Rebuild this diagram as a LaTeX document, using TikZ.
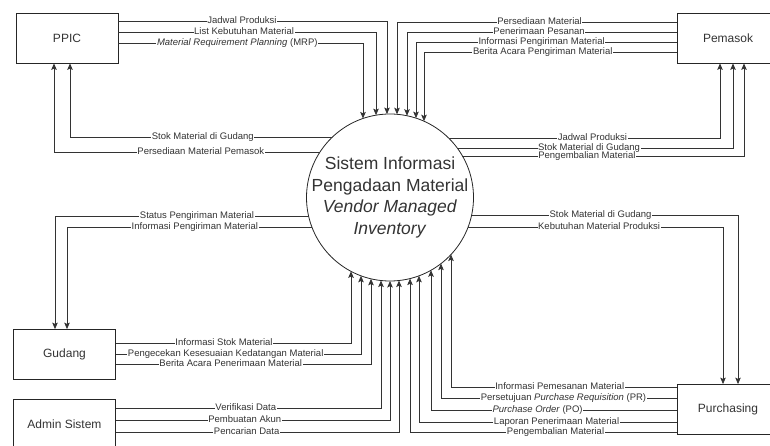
\documentclass[tikz,border=0pt]{standalone}
\usepackage{fontspec}
\setmainfont{Liberation Sans}
\usetikzlibrary{positioning,calc,arrows.meta}

\begin{document}
\begin{tikzpicture}[x=1pt,y=-1pt,
		ent/.style={draw=black!85,line width=0.8pt,minimum width=102pt,minimum height=50pt,font=\fontsize{12}{14}\selectfont,text=black!80},
		proc/.style={circle,draw=black!85,line width=0.8pt,minimum size=167pt,inner sep=-8pt,align=center,font=\fontsize{17.5}{21.5}\selectfont,text=black!80},
		flow/.style={draw=black!80,line width=0.8pt,-{Stealth[length=6.5pt,width=5.5pt,inset=1.3pt]}},
		lbl/.style={fill=white,inner sep=0.6pt,text height=6.8pt,text depth=1.8pt,font=\fontsize{9.5}{10}\selectfont,text=black!80}]
		\useasboundingbox (0,0) rectangle (770,446);
		\clip (0,0) rectangle (770,446);
		\node[ent] (ppic) at (67,38) {PPIC};
		\node[ent] (pem) at (728,38) {Pemasok};
		\node[ent] (gud) at (64.5,354.5) {Gudang};
		\node[ent] (adm) at (64.5,424.5) {Admin Sistem};
		\node[ent] (pur) at (728,409.5) {Purchasing};
		\node[proc] (sys) at (390,197.5) {Sistem Informasi\\Pengadaan Material\\\textit{Vendor Managed}\\\textit{Inventory}};
		\foreach \x in {363,376,387,397,407,416,424}
			\coordinate (t\x) at ($(sys.center)+({\x-390},{-sqrt(6972.25-(\x-390)^2)})$);
		\foreach \x in {351,361,371,381,390,399,410,419,431,441,451}
			\coordinate (b\x) at ($(sys.center)+({\x-390},{sqrt(6972.25-(\x-390)^2)})$);
		\foreach \y in {137,152,216,227}
			\coordinate (l\y) at ($(sys.center)+({-sqrt(6972.25-(\y-197.5)^2)},{\y-197.5})$);
		\foreach \y in {138,148,156,215,227}
			\coordinate (r\y) at ($(sys.center)+({sqrt(6972.25-(\y-197.5)^2)},{\y-197.5})$);

		\draw[flow] (ppic.east |- 0,21) -| (t387) node[lbl,pos=.23] {Jadwal Produksi};
		\draw[flow] (ppic.east |- 0,32) -| (t376) node[lbl,pos=.244] {List Kebutuhan Material};
		\draw[flow] (ppic.east |- 0,43) -| (t363) node[lbl,pos=.243] {\textit{Material Requirement Planning} (MRP)};

		\draw[flow] (pem.west |- 0,22) -| (t397) node[lbl,pos=.245] {Persediaan Material};
		\draw[flow] (pem.west |- 0,32) -| (t407) node[lbl,pos=.255] {Penerimaan Pesanan};
		\draw[flow] (pem.west |- 0,42) -| (t416) node[lbl,pos=.259] {Informasi Pengiriman Material};
		\draw[flow] (pem.west |- 0,52) -| (t424) node[lbl,pos=.265] {Berita Acara Pengiriman Material};

		\draw[flow] (l137) -| (ppic.south -| 70,0) node[lbl,pos=.247] {Stok Material di Gudang};
		\draw[flow] (l152) -| (ppic.south -| 54,0) node[lbl,pos=.224] {Persediaan Material Pemasok};

		\draw[flow] (r138) -| (pem.south -| 720,0) node[lbl,pos=.265] {Jadwal Produksi};
		\draw[flow] (r148) -| (pem.south -| 733,0) node[lbl,pos=.239] {Stok Material di Gudang};
		\draw[flow] (r156) -| (pem.south -| 744,0) node[lbl,pos=.221] {Pengembalian Material};

		\draw[flow] (l216) -| (gud.north -| 55,0) node[lbl,pos=.22] {Status Pengiriman Material};
		\draw[flow] (l227) -| (gud.north -| 67,0) node[lbl,pos=.239] {Informasi Pengiriman Material};

		\draw[flow] (r215) -| (pur.north -| 738,0) node[lbl,pos=.242] {Stok Material di Gudang};
		\draw[flow] (r227) -| (pur.north -| 723,0) node[lbl,pos=.257] {Kebutuhan Material Produksi};

		\draw[flow] (gud.east |- 0,343) -| (b351) node[lbl,pos=.23] {Informasi Stok Material};
		\draw[flow] (gud.east |- 0,354) -| (b361) node[lbl,pos=.224] {Pengecekan Kesesuaian Kedatangan Material};
		\draw[flow] (gud.east |- 0,364) -| (b371) node[lbl,pos=.225] {Berita Acara Penerimaan Material};

		\draw[flow] (adm.east |- 0,408) -| (b381) node[lbl,pos=.245] {Verifikasi Data};
		\draw[flow] (adm.east |- 0,420) -| (b390) node[lbl,pos=.235] {Pembuatan Akun};
		\draw[flow] (adm.east |- 0,432) -| (b399) node[lbl,pos=.231] {Pencarian Data};

		\draw[flow] (pur.west |- 0,387) -| (b451) node[lbl,pos=.259] {Informasi Pemesanan Material};
		\draw[flow] (pur.west |- 0,398) -| (b441) node[lbl,pos=.24] {Persetujuan \textit{Purchase Requisition} (PR)};
		\draw[flow] (pur.west |- 0,410) -| (b431) node[lbl,pos=.283] {\textit{Purchase Order} (PO)};
		\draw[flow] (pur.west |- 0,422) -| (b419) node[lbl,pos=.233] {Laporan Penerimaan Material};
		\draw[flow] (pur.west |- 0,432) -| (b410) node[lbl,pos=.227] {Pengembalian Material};
	\end{tikzpicture}
\end{document}
